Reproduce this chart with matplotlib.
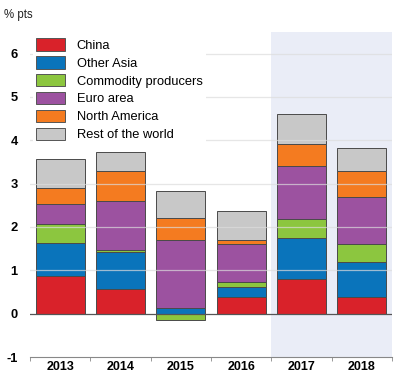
import matplotlib
matplotlib.use("Agg")
from matplotlib import pyplot as plt
import numpy as np

plt.rcParams["font.family"] = ["Liberation Sans", "DejaVu Sans"]

years = ["2013", "2014", "2015", "2016", "2017", "2018"]
series_names = ["China", "Other Asia", "Commodity producers",
                "Euro area", "North America", "Rest of the world"]
colors = ["#d9222a", "#0a74bb", "#8cc63f", "#9c52a0", "#f47b20", "#c8c8c8"]

china = [0.88, 0.58, 0.00, 0.39, 0.79, 0.39]
other_asia = [0.74, 0.84, 0.12, 0.23, 0.96, 0.79]
commodity = [0.44, 0.04, -0.15, 0.11, 0.43, 0.42]
euro_area = [0.46, 1.14, 1.57, 0.87, 1.23, 1.10]
north_america = [0.37, 0.70, 0.51, 0.11, 0.50, 0.58]
rest_world = [0.67, 0.42, 0.63, 0.65, 0.69, 0.54]

series = [china, other_asia, commodity, euro_area, north_america, rest_world]

fig = plt.figure(figsize=(3.95, 3.75), dpi=100)
ax = fig.add_axes([0.076, 0.048, 0.916, 0.867])

x = np.arange(len(years))
pos_bottom = np.zeros(len(years))
neg_bottom = np.zeros(len(years))
for name, vals, col in zip(series_names, series, colors):
    vals = np.array(vals)
    bottom = np.where(vals >= 0, pos_bottom, neg_bottom)
    ax.bar(x, vals, width=0.81, bottom=bottom, color=col, edgecolor="#4a4a4a",
           linewidth=0.7, label=name, zorder=2)
    pos_bottom += np.where(vals >= 0, vals, 0)
    neg_bottom += np.where(vals < 0, vals, 0)

# projection shading
ax.axvspan(3.5, 5.5, color="#eaedf7", zorder=0, lw=0)

ax.set_xlim(-0.5, 5.5)
ax.set_ylim(-1, 6.5)
ax.set_yticks(range(-1, 7))
ax.set_yticklabels([str(v) for v in range(-1, 7)], fontweight="bold", fontsize=9.3)
ax.set_xticks(x)
ax.set_xticklabels(years, fontweight="bold", fontsize=9)
ax.set_xticks(np.arange(-0.5, 5.6, 1), minor=True)
ax.tick_params(axis="x", which="major", length=0, pad=3)
ax.tick_params(axis="x", which="minor", length=3, color="#888888", direction="out")
ax.tick_params(axis="y", length=0, pad=9)

for v in range(1, 7):
    ax.axhline(v, color="#dcdcdc", lw=0.9, alpha=0.7, zorder=3)
ax.axhline(0, color="#555555", lw=0.9, zorder=3)

for s in ["top", "right", "left"]:
    ax.spines[s].set_visible(False)
ax.spines["bottom"].set_color("#888888")
ax.set_facecolor("none")

leg = ax.legend(loc="upper left", bbox_to_anchor=(0.0, 1.0), frameon=True,
                fontsize=9.3, handlelength=2.2, handleheight=1.1,
                labelspacing=0.33, borderpad=0.3, handletextpad=0.9,
                borderaxespad=0.2)
leg.get_frame().set_facecolor("white")
leg.get_frame().set_edgecolor("none")
leg.get_frame().set_alpha(1)
leg.set_zorder(5)
for h in leg.legend_handles:
    h.set_edgecolor("#555555")

fig.text(0.01, 0.952, "% pts", fontsize=8.3, color="#222222")

fig.savefig("out.png", dpi=100)
